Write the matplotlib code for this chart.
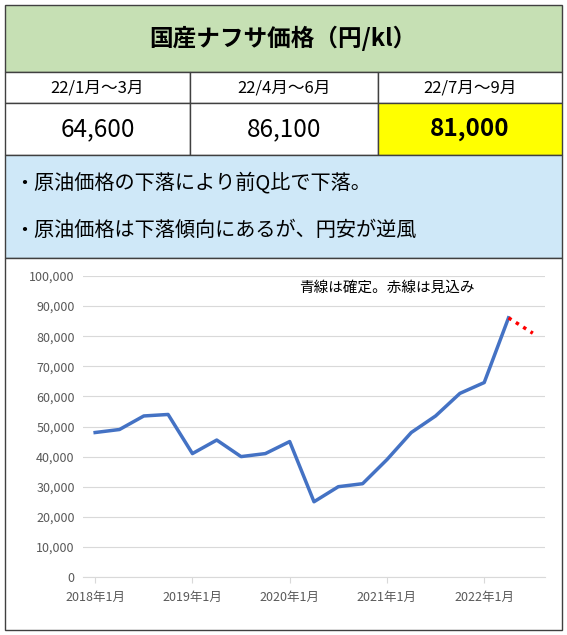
import matplotlib
matplotlib.use("Agg")
import matplotlib.pyplot as plt
from matplotlib.patches import Rectangle

plt.rcParams['font.family'] = ['Noto Sans CJK JP', 'DejaVu Sans']

title = "国産ナフサ価格（円/kl）"
periods = ["22/1月～3月", "22/4月～6月", "22/7月～9月"]
period_values = ["64,600", "86,100", "81,000"]
notes = ["・原油価格の下落により前Q比で下落。", "・原油価格は下落傾向にあるが、円安が逆風"]
actual = [48000, 49000, 53500, 54000, 41000, 45500, 40000, 41000, 45000,
          25000, 30000, 31000, 39000, 48000, 53500, 61000, 64600, 86100]
forecast = [86100, 81000]
xtick_labels = ["2018年1月", "2019年1月", "2020年1月", "2021年1月", "2022年1月"]
yticks = list(range(0, 100001, 10000))

W, H = 567, 635
fig = plt.figure(figsize=(W/100, H/100), dpi=100)
bg = fig.add_axes([0, 0, 1, 1])
bg.set_xlim(0, W); bg.set_ylim(H, 0); bg.axis('off')

def rect(x0, y0, x1, y1, fc):
    bg.add_patch(Rectangle((x0, y0), x1-x0, y1-y0, facecolor=fc, edgecolor='#404040', lw=1))

rect(5, 5, 562, 72, '#c6e0b4')
bg.text(283, 38, title, ha='center', va='center', fontsize=17, fontweight='bold')
cols = [5, 190, 378, 562]
for i in range(3):
    rect(cols[i], 72, cols[i+1], 103, 'white')
    bg.text((cols[i]+cols[i+1])/2, 88, periods[i], ha='center', va='center', fontsize=12)
    fc = '#ffff00' if i == 2 else 'white'
    rect(cols[i], 103, cols[i+1], 155, fc)
    bg.text((cols[i]+cols[i+1])/2, 129, period_values[i], ha='center', va='center',
            fontsize=17.5, fontweight='bold' if i == 2 else 'normal')
rect(5, 155, 562, 258, '#cfe8f8')
bg.text(14, 183, notes[0], ha='left', va='center', fontsize=14.5)
bg.text(14, 230, notes[1], ha='left', va='center', fontsize=14.5)
rect(5, 258, 562, 630, 'white')

ax = fig.add_axes([83/W, (H-577)/H, (545-83)/W, 301/H])
ax.set_facecolor('none')
x = list(range(len(actual)))
ax.plot(x, actual, color='#4472c4', lw=2.5)
ax.plot([len(actual)-1, len(actual)], forecast, color='#ff0000', lw=2.5, ls=(0, (1, 1.5)))
ax.set_xlim(-0.5, 18.5)
ax.set_ylim(0, 100000)
ax.set_yticks(yticks)
ax.set_yticklabels([f"{v:,}" for v in yticks], fontsize=9, color='#595959')
ax.set_xticks([0, 4, 8, 12, 16])
ax.set_xticklabels(xtick_labels, fontsize=9, color='#595959')
ax.grid(axis='y', color='#d9d9d9', lw=0.8)
ax.set_axisbelow(True)
for s in ['top', 'right', 'left']:
    ax.spines[s].set_visible(False)
ax.spines['bottom'].set_color('#d9d9d9')
ax.tick_params(axis='y', length=0, pad=6)
ax.tick_params(axis='x', length=4, color='#d9d9d9', pad=6)
ax.text(8.4, 96000, "青線は確定。赤線は見込み", fontsize=10.5, va='center')

fig.savefig("out.png", dpi=100)
